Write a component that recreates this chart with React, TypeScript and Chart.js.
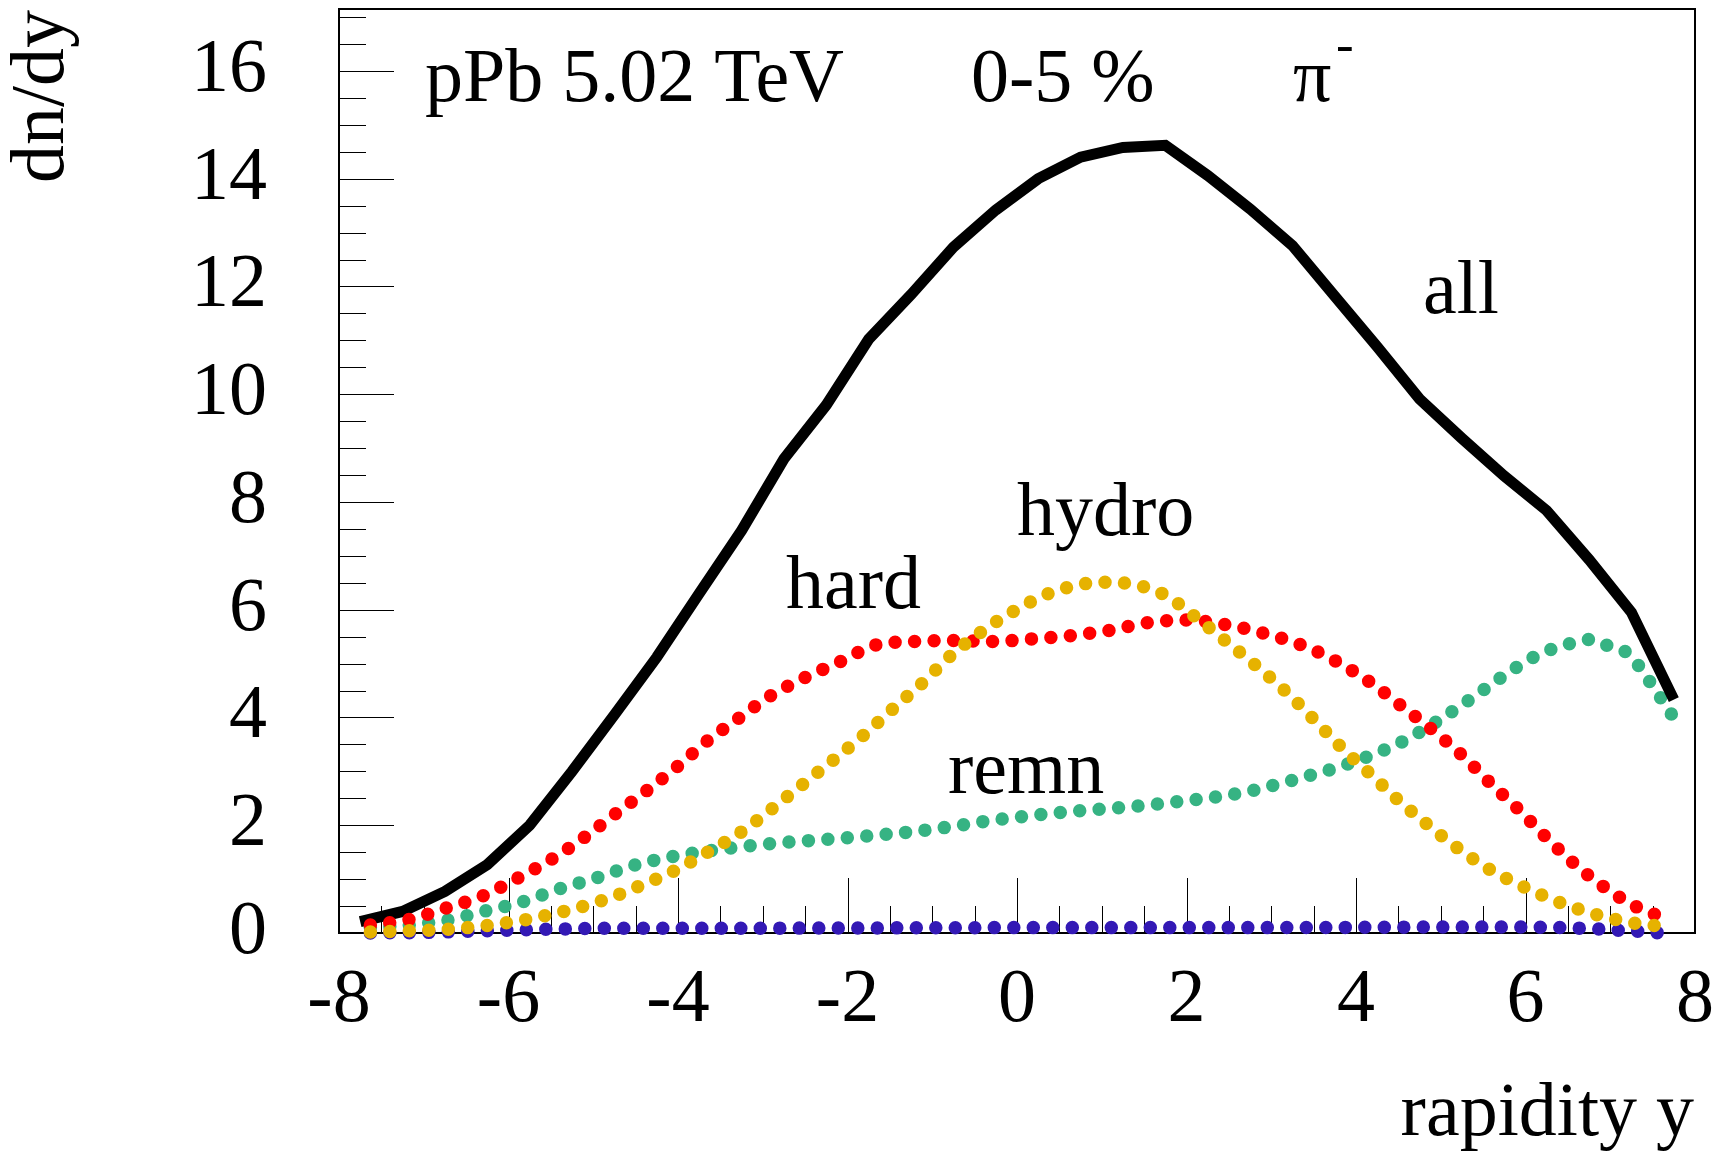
import React, { useEffect, useRef } from "react";
import { Chart, registerables } from "chart.js";

Chart.register(...registerables);

// ---------- data ----------
const xTickValues = [-8, -6, -4, -2, 0, 2, 4, 6, 8];
const yTickValues = [0, 2, 4, 6, 8, 10, 12, 14, 16];

const allX = [-7.75, -7.25, -6.75, -6.25, -5.75, -5.25, -4.75, -4.25, -3.75, -3.25, -2.75, -2.25, -1.75, -1.25, -0.75, -0.25, 0.25, 0.75, 1.25, 1.75, 2.25, 2.75, 3.25, 3.75, 4.25, 4.75, 5.25, 5.75, 6.25, 6.75, 7.25, 7.75];
const allY = [0.21, 0.40, 0.77, 1.27, 2.0, 3.0, 4.05, 5.12, 6.3, 7.47, 8.8, 9.8, 11.02, 11.85, 12.73, 13.42, 14.0, 14.4, 14.58, 14.62, 14.06, 13.44, 12.76, 11.82, 10.88, 9.91, 9.18, 8.48, 7.84, 6.93, 5.95, 4.33];

const hardX = [-7.63, -7.17, -6.74, -6.30, -5.89, -5.49, -5.10, -4.74, -4.37, -4.0, -3.65, -3.28, -2.9, -2.49, -2.08, -1.66, -1.22, -0.75, -0.28, 0.18, 0.64, 1.10, 1.55, 2.0, 2.47, 2.92, 3.35, 3.77, 4.17, 4.53, 4.9, 5.25, 5.58, 5.92, 6.24, 6.58, 6.94, 7.34, 7.55];
const hardY = [0.15, 0.25, 0.46, 0.69, 1.02, 1.37, 1.78, 2.21, 2.64, 3.10, 3.57, 3.99, 4.41, 4.75, 5.04, 5.35, 5.41, 5.43, 5.41, 5.46, 5.52, 5.62, 5.76, 5.81, 5.72, 5.56, 5.35, 5.04, 4.65, 4.22, 3.77, 3.3, 2.79, 2.29, 1.78, 1.28, 0.84, 0.46, 0.33];

const hydroX = [-7.63, -7.17, -6.71, -6.25, -5.79, -5.35, -4.9, -4.47, -4.05, -3.64, -3.25, -2.88, -2.52, -2.16, -1.79, -1.45, -1.11, -0.78, -0.42, -0.02, 0.39, 0.83, 1.07, 1.30, 1.74, 2.11, 2.47, 2.83, 3.18, 3.50, 3.83, 4.17, 4.51, 4.86, 5.23, 5.61, 6.03, 6.45, 6.88, 7.33, 7.57];
const hydroY = [0.02, 0.04, 0.07, 0.14, 0.25, 0.4, 0.6, 0.86, 1.15, 1.51, 1.88, 2.32, 2.77, 3.22, 3.7, 4.18, 4.65, 5.15, 5.59, 5.99, 6.31, 6.49, 6.51, 6.49, 6.28, 5.86, 5.41, 4.95, 4.47, 3.97, 3.44, 2.95, 2.45, 1.99, 1.54, 1.15, 0.82, 0.54, 0.32, 0.17, 0.13];

const remnX = [-7.63, -7.17, -6.72, -6.27, -5.83, -5.38, -4.95, -4.51, -4.06, -3.61, -3.14, -2.68, -2.22, -1.77, -1.30, -0.84, -0.39, 0.07, 0.53, 0.99, 1.45, 1.91, 2.37, 2.82, 3.26, 3.71, 4.15, 4.57, 4.96, 5.35, 5.73, 6.12, 6.54, 6.77, 6.99, 7.2, 7.35, 7.48, 7.61, 7.74];
const remnY = [0.1, 0.15, 0.24, 0.41, 0.58, 0.83, 1.03, 1.26, 1.42, 1.53, 1.62, 1.69, 1.74, 1.80, 1.87, 1.96, 2.07, 2.16, 2.24, 2.30, 2.36, 2.44, 2.53, 2.66, 2.84, 3.04, 3.28, 3.57, 3.93, 4.34, 4.76, 5.14, 5.38, 5.45, 5.32, 5.2, 4.93, 4.63, 4.33, 4.02];

const otherX = [-7.63, -7.0, -6.3, -5.5, -4.8, -3.0, 0.0, 3.0, 5.0, 6.0, 6.8, 7.1, 7.35, 7.61];
const otherY = [0.0, 0.01, 0.04, 0.07, 0.09, 0.09, 0.1, 0.1, 0.11, 0.11, 0.08, 0.05, 0.03, 0.0];

const FONT = '"Liberation Serif", "Times New Roman", Times, serif';
const FS = 76;

const dotted = (label: string, xs: number[], ys: number[], color: string, order: number) => ({
  label,
  data: xs.map((x, i) => ({ x, y: ys[i] })),
  borderColor: color,
  backgroundColor: color,
  borderWidth: 13.5,
  borderDash: [0, 19.5],
  borderCapStyle: "round" as const,
  pointRadius: 0,
  fill: false,
  cubicInterpolationMode: "monotone" as const,
  clip: false as any,
  order,
});

const zeroPad = (s: any) => {
  s.paddingTop = 0;
  s.paddingBottom = 0;
  s.paddingLeft = 0;
  s.paddingRight = 0;
};

const decorPlugin = {
  id: "decor",
  beforeDatasetsDraw(chart: any) {
    const { ctx, chartArea: a, scales } = chart;
    const xs = scales.x;
    const ys = scales.y;
    ctx.save();
    ctx.strokeStyle = "#000";
    ctx.lineWidth = 1;
    ctx.beginPath();
    for (let k = 1; k < 32; k++) {
      const v = -8 + k * 0.5;
      const px = Math.round(xs.getPixelForValue(v)) + 0.5;
      const len = k % 4 === 0 ? 55 : 27;
      ctx.moveTo(px, a.bottom);
      ctx.lineTo(px, a.bottom - len);
    }
    for (let k = 1; k <= 34; k++) {
      const v = k * 0.5;
      if (v > ys.max) break;
      const py = Math.round(ys.getPixelForValue(v)) + 0.5;
      const len = k % 4 === 0 ? 55 : 27;
      ctx.moveTo(a.left, py);
      ctx.lineTo(a.left + len, py);
    }
    ctx.stroke();
    ctx.lineWidth = 2;
    ctx.strokeRect(a.left, a.top, a.right - a.left, a.bottom - a.top);
    ctx.restore();
  },
  afterDraw(chart: any) {
    const { ctx } = chart;
    ctx.save();
    ctx.fillStyle = "#000";
    ctx.font = `${FS}px ${FONT}`;
    ctx.textBaseline = "alphabetic";
    ctx.textAlign = "left";
    ctx.fillText("pPb 5.02 TeV", 425, 101);
    ctx.fillText("0-5 %", 971, 101);
    ctx.fillText("\u03c0", 1293, 101);
    ctx.fillText("all", 1423, 313);
    ctx.fillText("hydro", 1017, 535);
    ctx.fillText("hard", 786, 608);
    ctx.fillText("remn", 948, 793);
    ctx.font = `${Math.round(FS * 0.7)}px ${FONT}`;
    ctx.fillText("-", 1336, 62);
    ctx.font = `${FS}px ${FONT}`;
    ctx.textAlign = "right";
    ctx.fillText("rapidity y", 1694, 1135);
    ctx.translate(63, 10);
    ctx.rotate(-Math.PI / 2);
    ctx.textAlign = "right";
    ctx.fillText("dn/dy", 0, 0);
    ctx.restore();
  },
};

export default function App() {
  const ref = useRef<HTMLCanvasElement | null>(null);
  useEffect(() => {
    if (!ref.current) return;
    const chart = new Chart(ref.current, {
      type: "line",
      data: {
        datasets: [
          dotted("hydro", hydroX, hydroY, "#e6b200", 0),
          dotted("other", otherX, otherY, "#3319b5", 1),
          dotted("hard", hardX, hardY, "#ff0000", 2),
          {
            label: "all",
            data: allX.map((x, i) => ({ x, y: allY[i] })),
            borderColor: "#000",
            borderWidth: 11,
            borderCapStyle: "butt",
            borderJoinStyle: "miter",
            pointRadius: 0,
            fill: false,
            tension: 0,
            clip: false as any,
            order: 3,
          } as any,
          dotted("remn", remnX, remnY, "#36b383", 4),
        ],
      },
      options: {
        animation: false,
        responsive: false,
        events: [],
        layout: { padding: { left: 0, right: 25, top: 9, bottom: 0 } },
        plugins: { legend: { display: false }, tooltip: { enabled: false }, title: { display: false } },
        scales: {
          x: {
            type: "linear",
            min: -8,
            max: 8,
            grid: { display: false, drawTicks: false },
            border: { display: false },
            ticks: {
              font: { family: FONT, size: FS },
              color: "#000",
              padding: 22,
              maxRotation: 0,
              autoSkip: false,
              callback: (v: any) => String(v),
            },
            afterBuildTicks: (s: any) => {
              s.ticks = xTickValues.map((v) => ({ value: v }));
            },
            afterFit: (s: any) => {
              s.height = 223;
              zeroPad(s);
            },
          },
          y: {
            type: "linear",
            min: 0,
            max: 17.15,
            grid: { display: false, drawTicks: false },
            border: { display: false },
            ticks: {
              font: { family: FONT, size: FS },
              color: "#000",
              padding: 72,
              autoSkip: false,
              callback: (v: any) => String(v),
            },
            afterBuildTicks: (s: any) => {
              s.ticks = yTickValues.map((v) => ({ value: v }));
            },
            afterFit: (s: any) => {
              s.width = 339;
              zeroPad(s);
            },
          },
        },
      } as any,
      plugins: [decorPlugin],
    });
    return () => chart.destroy();
  }, []);
  return (
    <div style={{ position: "fixed", left: 0, top: 0, width: 1720, height: 1156, background: "#fff" }}>
      <canvas ref={ref} width={1720} height={1156} style={{ width: 1720, height: 1156, display: "block" }} />
    </div>
  );
}
